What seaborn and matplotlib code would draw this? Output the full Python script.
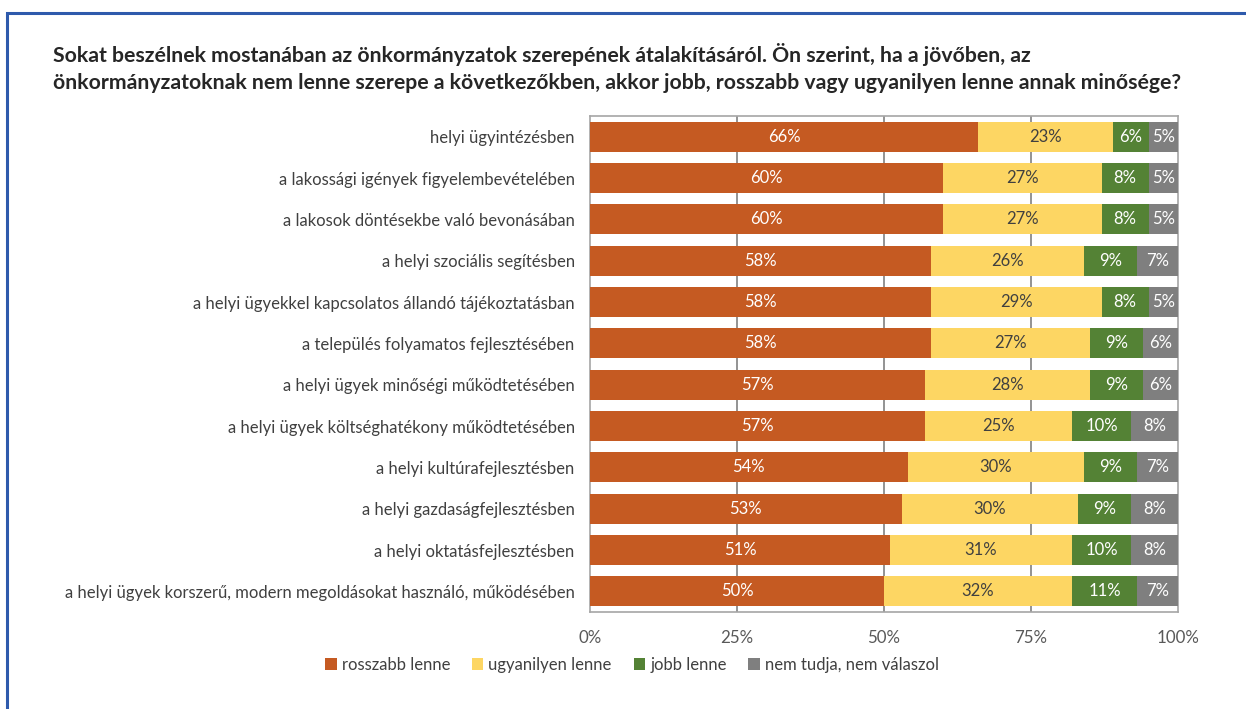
import matplotlib
matplotlib.use("Agg")
import matplotlib.pyplot as plt
from matplotlib.patches import Rectangle, Patch
import numpy as np
import pandas as pd
import seaborn as sns

categories = [
    "helyi ügyintézésben",
    "a lakossági igények figyelembevételében",
    "a lakosok döntésekbe való bevonásában",
    "a helyi szociális segítésben",
    "a helyi ügyekkel kapcsolatos állandó tájékoztatásban",
    "a település folyamatos fejlesztésében",
    "a helyi ügyek minőségi működtetésében",
    "a helyi ügyek költséghatékony működtetésében",
    "a helyi kultúrafejlesztésben",
    "a helyi gazdaságfejlesztésben",
    "a helyi oktatásfejlesztésben",
    "a helyi ügyek korszerű, modern megoldásokat használó, működésében",
]
rosszabb = [66, 60, 60, 58, 58, 58, 57, 57, 54, 53, 51, 50]
ugyanilyen = [23, 27, 27, 26, 29, 27, 28, 25, 30, 30, 31, 32]
jobb = [6, 8, 8, 9, 8, 9, 9, 10, 9, 9, 10, 11]
nem_tudja = [5, 5, 5, 7, 5, 6, 6, 8, 7, 8, 8, 7]

series_names = ["rosszabb lenne", "ugyanilyen lenne", "jobb lenne", "nem tudja, nem válaszol"]
series_values = [rosszabb, ugyanilyen, jobb, nem_tudja]
colors = ["#C55A22", "#FDD663", "#548235", "#7F7F7F"]
label_colors = ["white", "#404040", "white", "white"]
title = ("Sokat beszélnek mostanában az önkormányzatok szerepének átalakításáról. Ön szerint, ha a jövőben, az\n"
         "önkormányzatoknak nem lenne szerepe a következőkben, akkor jobb, rosszabb vagy ugyanilyen lenne annak minősége?")
x_ticks = [0, 25, 50, 75, 100]

sns.set_theme(style="white")
plt.rcParams["font.family"] = ["Lato", "DejaVu Sans"]

W, H = 1246, 709
fig = plt.figure(figsize=(W / 100, H / 100), dpi=100)
ax = fig.add_axes([590 / W, 1 - 612 / H, (1178 - 590) / W, (612 - 116) / H])

vals = np.array(series_values, dtype=float)
cum = np.cumsum(vals, axis=0)
df = pd.DataFrame({"kategoria": categories})

# stacked bars: draw cumulative totals from the largest down so each layer shows its segment
for i in range(len(series_names) - 1, -1, -1):
    df["v"] = cum[i]
    sns.barplot(data=df, x="v", y="kategoria", orient="h", color=colors[i],
                saturation=1, width=0.72, ax=ax, zorder=3, linewidth=0)

# segment value labels
for i in range(len(series_names)):
    starts = cum[i] - vals[i]
    for j, (s, v) in enumerate(zip(starts, vals[i])):
        ax.text(s + v / 2, j, f"{int(v)}%", ha="center", va="center",
                fontsize=12, color=label_colors[i], zorder=5)

ax.set_xlim(0, 100)
ax.set_ylim(len(categories) - 0.5, -0.5)
ax.set_xticks(x_ticks)
ax.set_xticklabels([f"{t}%" for t in x_ticks], fontsize=12.2, color="#595959")
ax.tick_params(axis="x", length=0, pad=13)
ax.tick_params(axis="y", length=0, pad=11, labelsize=12.0, labelcolor="#404040")
ax.set_xlabel("")
ax.set_ylabel("")
for t in x_ticks[1:-1]:
    ax.axvline(t, color="#808080", lw=1.2, zorder=1)
for sp in ax.spines.values():
    sp.set_visible(True)
    sp.set_color("#A6A6A6")
    sp.set_linewidth(1.2)

fig.text(53 / W, 1 - 68 / H, title, ha="left", va="center", fontsize=15.3,
         fontweight="bold", color="#262626", linespacing=1.45)

handles = [Patch(facecolor=c, edgecolor="none") for c in colors]
fig.legend(handles, series_names, loc="center", bbox_to_anchor=(632 / W, 1 - 665 / H),
           ncol=4, frameon=False, fontsize=12.0, handlelength=0.7, handleheight=0.7,
           handletextpad=0.3, columnspacing=1.3, labelcolor="#404040")

# outer blue frame
fig.patches.append(Rectangle((6.5 / W, -0.02), 1.05, 1 - 12.5 / H + 0.02,
                             transform=fig.transFigure, fill=False,
                             edgecolor="#2E5AAC", linewidth=2.2))

fig.savefig("out.png", dpi=100, facecolor="white")
